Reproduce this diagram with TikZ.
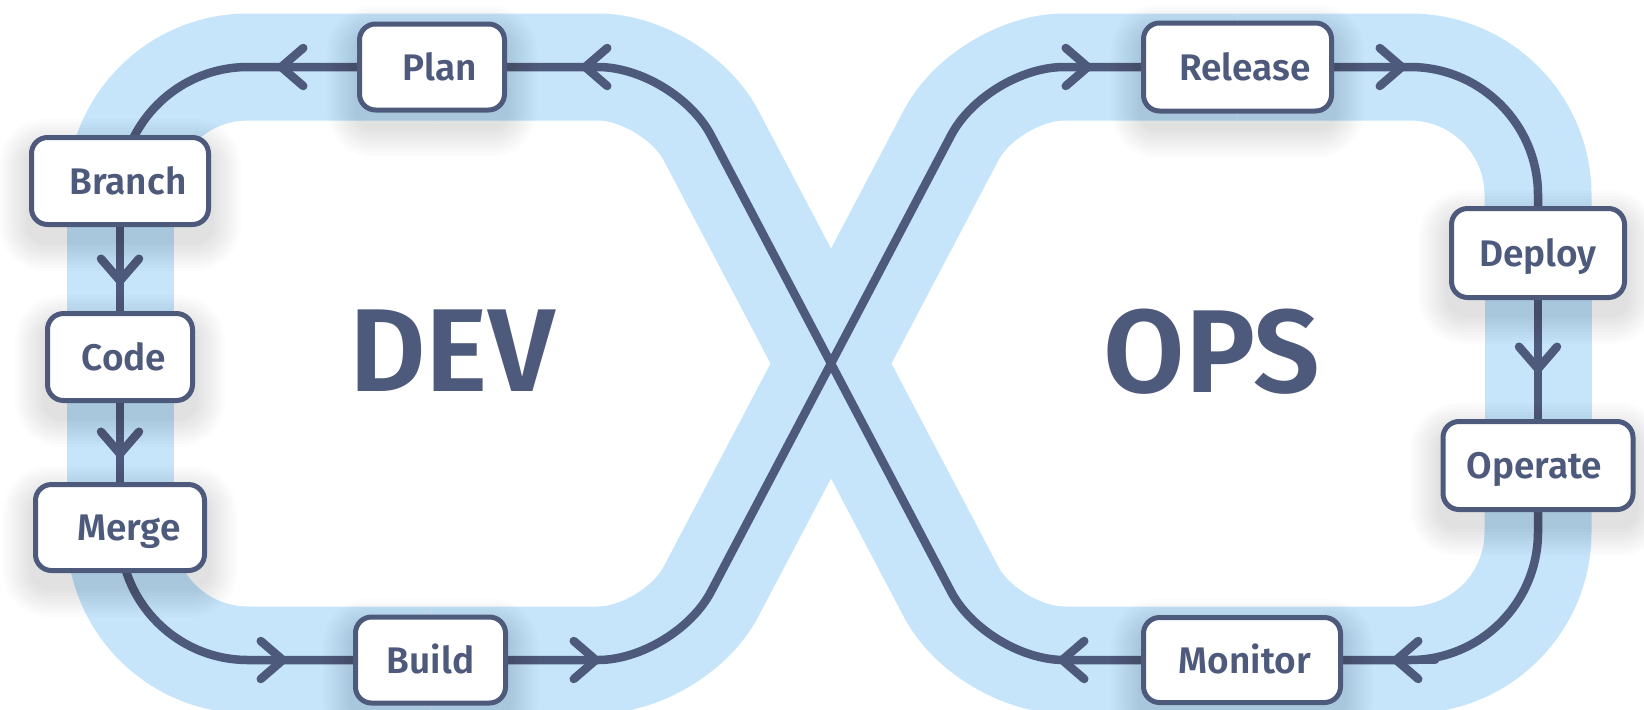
\documentclass[tikz,border=0pt]{standalone}
\usepackage{fontspec}
\IfFontExistsTF{Fira Sans SemiBold}
  {\setmainfont{Fira Sans SemiBold}\newcommand\wt{}}
  {\setmainfont{Fira Sans}\newcommand\wt{\bfseries}}
\usetikzlibrary{arrows.meta,calc}

\definecolor{band}{RGB}{198,229,251}
\definecolor{ink}{RGB}{78,90,123}

\pgfdeclarelayer{bg}
\pgfdeclarelayer{shade}
\pgfsetlayers{bg,shade,main}

\tikzset{
  stage/.style={draw=ink, line width=2.5pt, fill=white, rounded corners=8pt,
    inner sep=0pt, text=ink, font=\fontsize{18.5}{22}\selectfont\wt,
    text height=13pt, text depth=0pt},
  bigword/.style={text=ink, font=\fontsize{59}{62}\selectfont\wt, inner sep=0pt, anchor=base},
  bandline/.style={draw=band, line width=53.5pt},
  flowline/.style={draw=ink, line width=4.25pt},
  arrowmark/.style={draw=ink, line width=4.25pt, line cap=round,
    -{Straight Barb[length=11pt, width=19pt, round]}},
}

% the figure-eight track, drawn once as the wide band and once as the thin line
\newcommand\eighttrack[1]{%
  \path[#1] (plan.center) -- (tl-a) arc[start angle=90, end angle=180, radius=64pt];
  \path[#1] (branch.center) -- (code.center);
  \path[#1] (code.center) -- (merge.center);
  \path[#1] (merge.center) -- (bl-a) arc[start angle=180, end angle=270, radius=64pt] -- (build.center);
  \path[#1, rounded corners=38.5pt] (build.center) -- (v1) -- (v2) -- (release.center);
  \path[#1] (release.center) -- (tr-a) arc[start angle=90, end angle=0, radius=64pt] -- (deploy.center);
  \path[#1] (deploy.center) -- (operate.center);
  \path[#1] (operate.center) -- (br-a) arc[start angle=0, end angle=-90, radius=64pt] -- (monitor.center);
  \path[#1, rounded corners=38.5pt] (monitor.center) -- (v3) -- (v4) -- (plan.center);
}

\begin{document}
\begin{tikzpicture}[x=0.5pt, y=-0.5pt]
\useasboundingbox (0,0) rectangle (1644,709);

% stages of the cycle
\node[stage, minimum width=72.5pt, minimum height=43pt]   (plan)    at (432,67)     {\hspace*{8pt}Plan};
\node[stage, minimum width=88.5pt, minimum height=43.5pt] (branch)  at (120,181)    {\hspace*{8pt}Branch};
\node[stage, minimum width=72.5pt, minimum height=43.5pt] (code)    at (120,357)    {\hspace*{4pt}Code};
\node[stage, minimum width=84.5pt, minimum height=43pt]   (merge)   at (120,527.5)  {\hspace*{9pt}Merge};
\node[stage, minimum width=75pt,   minimum height=43pt]   (build)   at (430.5,660)  {Build};
\node[stage, minimum width=94pt,   minimum height=44pt]   (release) at (1237.5,67)  {\hspace*{7.5pt}Release};
\node[stage, minimum width=86.5pt, minimum height=44.5pt] (deploy)  at (1538,253)   {Deploy};
\node[stage, minimum width=95pt,   minimum height=44pt]   (operate) at (1538,465.5) {\hspace*{-3.5pt}Operate};
\node[stage, minimum width=98.5pt, minimum height=42.5pt] (monitor) at (1242,660)   {\hspace*{3pt}Monitor};

\node[bigword] (dev) at (452,391) {DEV};
\node[bigword] (ops) at (1212,392) {OPS};

% corner and crossing points of the track
\coordinate (tl-a) at (248,67);
\coordinate (bl-a) at (120,532);
\coordinate (tr-a) at (1410,67);
\coordinate (br-a) at (1538,532);
\coordinate (v1) at (675,660);
\coordinate (v2) at (987,67);
\coordinate (v3) at (987,660);
\coordinate (v4) at (675,67);

% direction marks along the track
\coordinate (a1s) at (320,67);    \coordinate (a1) at (277,67);
\coordinate (a2s) at (598,67);    \coordinate (a2) at (581,67);
\coordinate (a3s) at (120,245);   \coordinate (a3) at (120,285);
\coordinate (a4s) at (120,418);   \coordinate (a4) at (120,458);
\coordinate (a5s) at (250,660);   \coordinate (a5) at (287,660);
\coordinate (a6s) at (560,660);   \coordinate (a6) at (600,660);
\coordinate (a7s) at (1066,67);   \coordinate (a7) at (1092,67);
\coordinate (a8s) at (1365,67);   \coordinate (a8) at (1406,67);
\coordinate (a9s) at (1538,333);  \coordinate (a9) at (1538,373);
\coordinate (a10s) at (1435,660); \coordinate (a10) at (1392,660);
\coordinate (a11s) at (1095,660); \coordinate (a11) at (1058,660);

\begin{pgfonlayer}{bg}
  \fill[white] (0,0) rectangle (1644,709);
  \eighttrack{bandline}
  \eighttrack{flowline}
  \foreach \i in {1,...,11}{
    \draw[arrowmark] (a\i s) -- (a\i);
  }
\end{pgfonlayer}

% soft shadows under the stage boxes
\begin{pgfonlayer}{shade}
  \foreach \nn in {plan,branch,code,merge,build,release,deploy,operate,monitor}{
    \foreach \kk in {1,...,10}{
      \pgfmathsetmacro\rr{8+1.5*\kk}
      \fill[black, opacity=0.012, rounded corners=\rr pt]
        ($(\nn.north west)+(-3*\kk,14-3*\kk)$) rectangle ($(\nn.south east)+(3*\kk,14+3*\kk)$);
    }
  }
\end{pgfonlayer}
\end{tikzpicture}
\end{document}
